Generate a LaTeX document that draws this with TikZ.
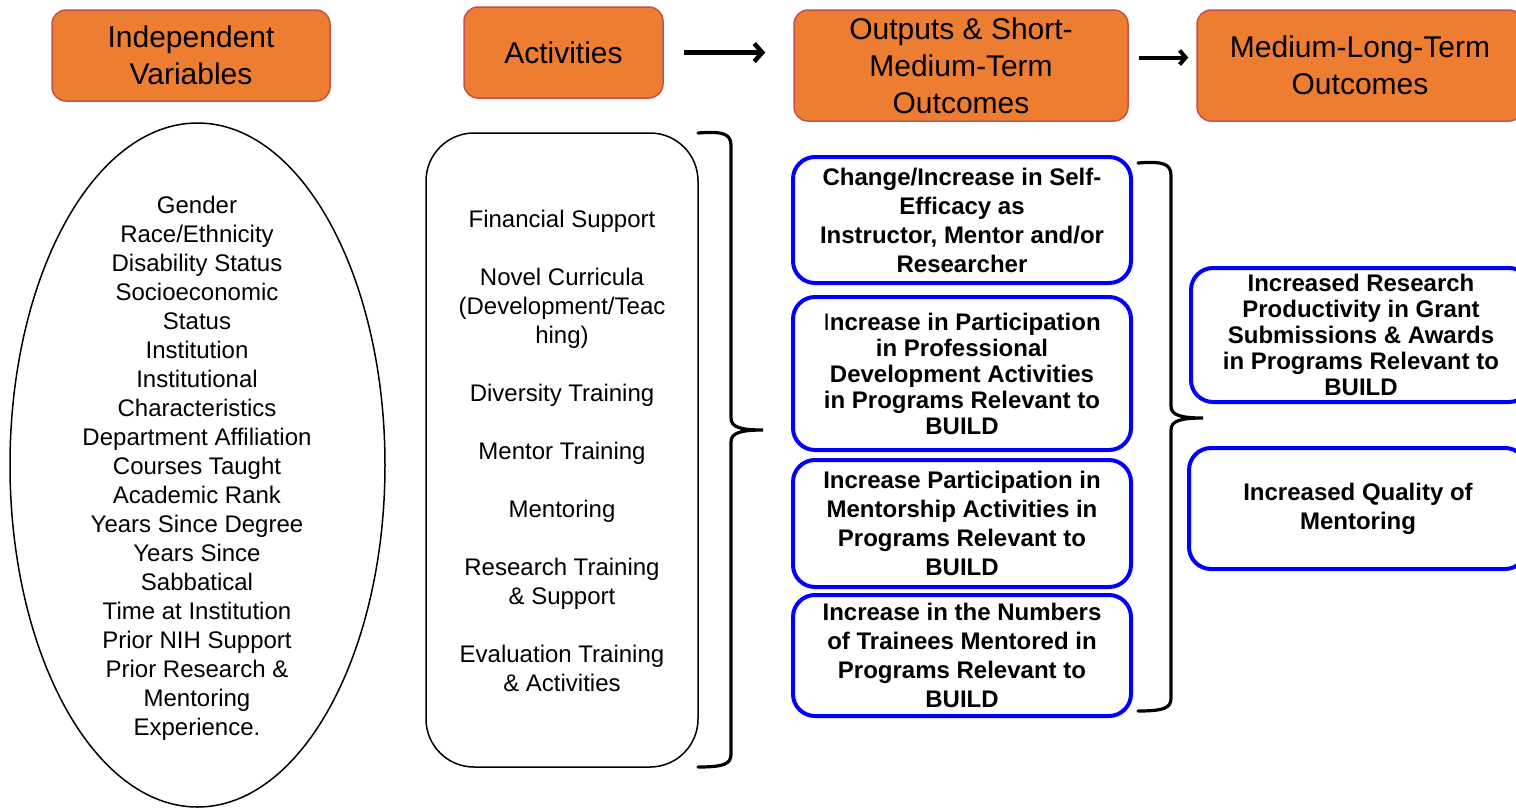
\documentclass[tikz,border=0pt]{standalone}
\usepackage{fontspec}
\setmainfont{Liberation Sans}
\usetikzlibrary{arrows.meta,shapes.geometric}
\definecolor{orng}{HTML}{ED7D31}
\definecolor{orngline}{HTML}{C5524A}
\definecolor{bblue}{HTML}{0000FF}
\begin{document}
\begin{tikzpicture}[x=1pt,y=-1pt,
  hdr/.style={draw=orngline, line width=1.5pt, fill=orng, rounded corners=14pt, align=center, font=\fontsize{30}{37}\selectfont, inner sep=0pt},
  obox/.style={draw=bblue, line width=4pt, rounded corners=22pt, align=center, font=\fontsize{24}{29}\selectfont\bfseries, inner sep=0pt},
  plaintxt/.style={align=center, font=\fontsize{24}{29}\selectfont, inner sep=0pt},
  arr/.style={line width=4.5pt, -{Straight Barb[length=8pt,width=18pt,line cap=butt]}},
  brc/.style={line width=3.2pt, line cap=round}
]
\useasboundingbox (0,0) rectangle (1516,807);
\fill[white] (0,0) rectangle (1516,807);
\begin{scope}
\clip (0,0) rectangle (1516,807);
% headers
\node[hdr, minimum width=278, minimum height=91] (iv) at (191,55.5) {Independent\\Variables};
\node[hdr, minimum width=199, minimum height=91] (act) at (563.5,52.5) {Activities};
\node[hdr, minimum width=334, minimum height=111] (out) at (961,65.5) {Outputs \& Short-\\Medium-Term\\Outcomes};
\node[hdr, minimum width=326, minimum height=111] (mlt) at (1360,65.5) {Medium-Long-Term\\Outcomes};
% arrows
\draw[arr, shorten <=20pt, shorten >=28pt] (act.east) -- (act.east -| out.west);
\draw[line width=4pt, -{Straight Barb[length=6pt,width=14pt]}, shorten <=10pt, shorten >=8pt] ([yshift=8pt]out.east) -- ([yshift=8pt]out.east -| mlt.west);
% ellipse
\node[draw, ellipse, line width=1.5pt, minimum width=375, minimum height=684, inner sep=0pt] (ell) at (197.5,465) {};
\node[plaintxt] (elltxt) at (197,468) {Gender\\Race/Ethnicity\\Disability Status\\Socioeconomic\\Status\\Institution\\Institutional\\Characteristics\\Department Affiliation\\Courses Taught\\Academic Rank\\Years Since Degree\\Years Since\\Sabbatical\\Time at Institution\\Prior NIH Support\\Prior Research \&\\Mentoring\\Experience.};
% activities box
\node[draw, line width=1.5pt, rounded corners=48pt, minimum width=272, minimum height=634, inner sep=0pt] (actbox) at (562,450) {};
\node[plaintxt] (acttxt) at (562,451) {Financial Support\\[29pt]Novel Curricula\\(Development/Teac\\hing)\\[29pt]Diversity Training\\[29pt]Mentor Training\\[29pt]Mentoring\\[29pt]Research Training\\\& Support\\[29pt]Evaluation Training\\\& Activities};
% brace 1
\draw[brc] (698,133) .. controls (724,131) and (731,134) .. (731,146) -- (731,418) .. controls (731,427) and (740,430) .. (763,430) .. controls (740,430) and (731,433) .. (731,442) -- (731,754) .. controls (731,764) and (724,767) .. (698,767);
% outputs
\node[obox, minimum width=338, minimum height=126] (b1) at (962,220) {Change/Increase in Self-\\Efficacy as\\Instructor, Mentor and/or\\Researcher};
\node[obox, minimum width=338, minimum height=153, font=\fontsize{24}{26}\selectfont\bfseries] (b2) at (962,373.5) {{\mdseries I}ncrease in Participation\\in Professional\\Development Activities\\in Programs Relevant to\\BUILD};
\node[obox, minimum width=338, minimum height=127] (b3) at (962,523.5) {Increase Participation in\\Mentorship Activities in\\Programs Relevant to\\BUILD};
\node[obox, minimum width=338, minimum height=121] (b4) at (962,655.5) {Increase in the Numbers\\of Trainees Mentored in\\Programs Relevant to\\BUILD};
% brace 2
\draw[brc] (1138,163) .. controls (1164,161) and (1171,164) .. (1171,176) -- (1171,406) .. controls (1171,415) and (1180,418) .. (1203,418) .. controls (1180,418) and (1171,421) .. (1171,430) -- (1171,698) .. controls (1171,708) and (1164,711) .. (1138,711);
% long-term outcomes
\node[obox, minimum width=340, minimum height=134, font=\fontsize{24}{26}\selectfont\bfseries] (b5) at (1361,335) {Increased Research\\Productivity in Grant\\Submissions \& Awards\\in Programs Relevant to\\BUILD};
\node[obox, minimum width=338, minimum height=121] (b6) at (1358,508.5) {Increased Quality of\\Mentoring};
\end{scope}
\end{tikzpicture}
\end{document}
